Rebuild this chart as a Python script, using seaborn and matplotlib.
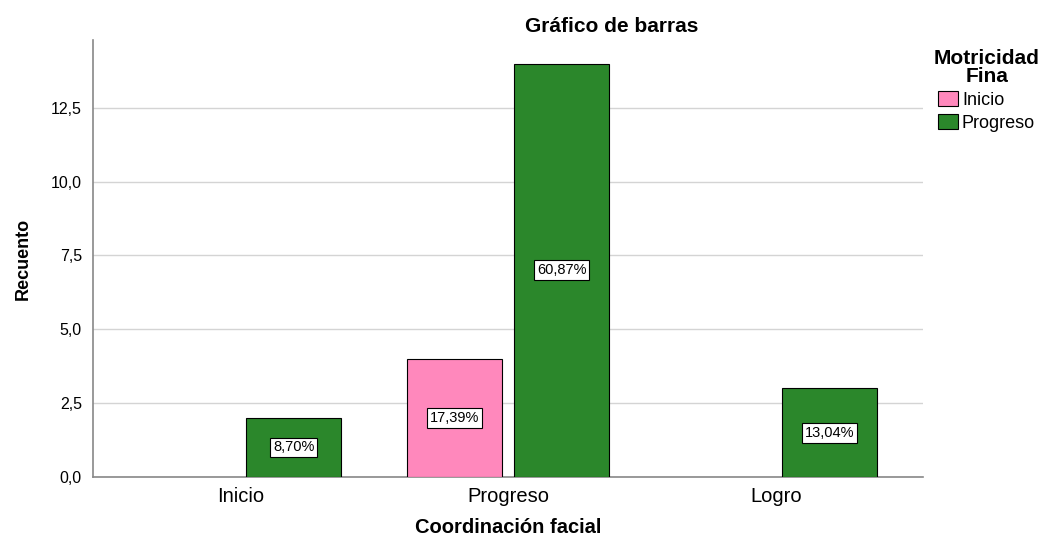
import pandas as pd
import matplotlib.pyplot as plt
import seaborn as sns

# data
categorias = ["Inicio", "Progreso", "Logro"]
grupo = ["Progreso", "Inicio", "Progreso", "Progreso"]
coord = ["Inicio", "Progreso", "Progreso", "Logro"]
recuento = [2, 4, 14, 3]
porcentaje = ["8,70%", "17,39%", "60,87%", "13,04%"]
niveles = ["Inicio", "Progreso"]
colores = ["#FF88BC", "#2B872B"]

df = pd.DataFrame({"coord": coord, "grupo": grupo, "n": recuento, "pct": porcentaje})

sns.set_style("white")
plt.rcParams["font.family"] = ["Liberation Sans", "DejaVu Sans"]
plt.rcParams["text.color"] = "black"
plt.rcParams["xtick.color"] = "black"
plt.rcParams["ytick.color"] = "black"
plt.rcParams["axes.labelcolor"] = "black"

fig = plt.figure(figsize=(10.54, 5.39), dpi=100)
ax = fig.add_axes([0.0882, 0.115, 0.7875, 0.811])

sns.barplot(data=df, x="coord", y="n", hue="grupo", order=categorias,
            hue_order=niveles, palette=colores, saturation=1, width=0.8, gap=0.11,
            edgecolor="black", linewidth=0.8, ax=ax, legend=False, zorder=3)

# percentage labels in the middle of each bar
for cont, lvl in zip(ax.containers, niveles):
    sub = df[df.grupo == lvl].copy()
    sub["orden"] = sub["coord"].map(categorias.index)
    sub = sub.sort_values("orden")
    for bar, (_, row) in zip(cont, sub.iterrows()):
        ax.text(bar.get_x() + bar.get_width() / 2, row["n"] / 2, row["pct"],
                ha="center", va="center", fontsize=10.5, zorder=5,
                bbox=dict(boxstyle="square,pad=0.2", fc="white", ec="black", lw=0.8))

ax.set_xlim(-0.55, 2.55)
ax.set_ylim(0, 14.8)
ax.set_yticks([0, 2.5, 5, 7.5, 10, 12.5])
ax.set_yticklabels(["0,0", "2,5", "5,0", "7,5", "10,0", "12,5"], fontsize=11.5)
ax.tick_params(axis="x", labelsize=14.5, length=0, pad=7)
ax.tick_params(axis="y", length=0, pad=8)
ax.yaxis.grid(True, color="#d4d4d4", linewidth=1, zorder=0)
ax.set_axisbelow(True)
for s in ["top", "right"]:
    ax.spines[s].set_visible(False)
for s in ["left", "bottom"]:
    ax.spines[s].set_color("#888888")
    ax.spines[s].set_linewidth(1.2)

ax.set_xlabel("Coordinación facial", fontsize=14.5, fontweight="bold", labelpad=9)
ax.set_ylabel("Recuento", fontsize=13, fontweight="bold", labelpad=14,
              family=["Liberation Sans Narrow", "Liberation Sans", "DejaVu Sans"])
fig.text(0.58, 0.95, "Gráfico de barras", ha="center", va="center",
         fontsize=15, fontweight="bold")

handles = [plt.Rectangle((0, 0), 1, 1, fc=c, ec="black", lw=0.8) for c in colores]
leg = fig.legend(handles, niveles, title="Motricidad\nFina", loc="upper left",
                 bbox_to_anchor=(0.886, 0.91), frameon=False, fontsize=13,
                 title_fontproperties={"weight": "bold", "size": 15},
                 handlelength=1.1, handleheight=0.9, handletextpad=0.2,
                 labelspacing=0.3, borderaxespad=0, borderpad=0)
leg.get_title().set_multialignment("center")
leg.get_title().set_linespacing(0.95)

fig.savefig("out.png", dpi=100)
